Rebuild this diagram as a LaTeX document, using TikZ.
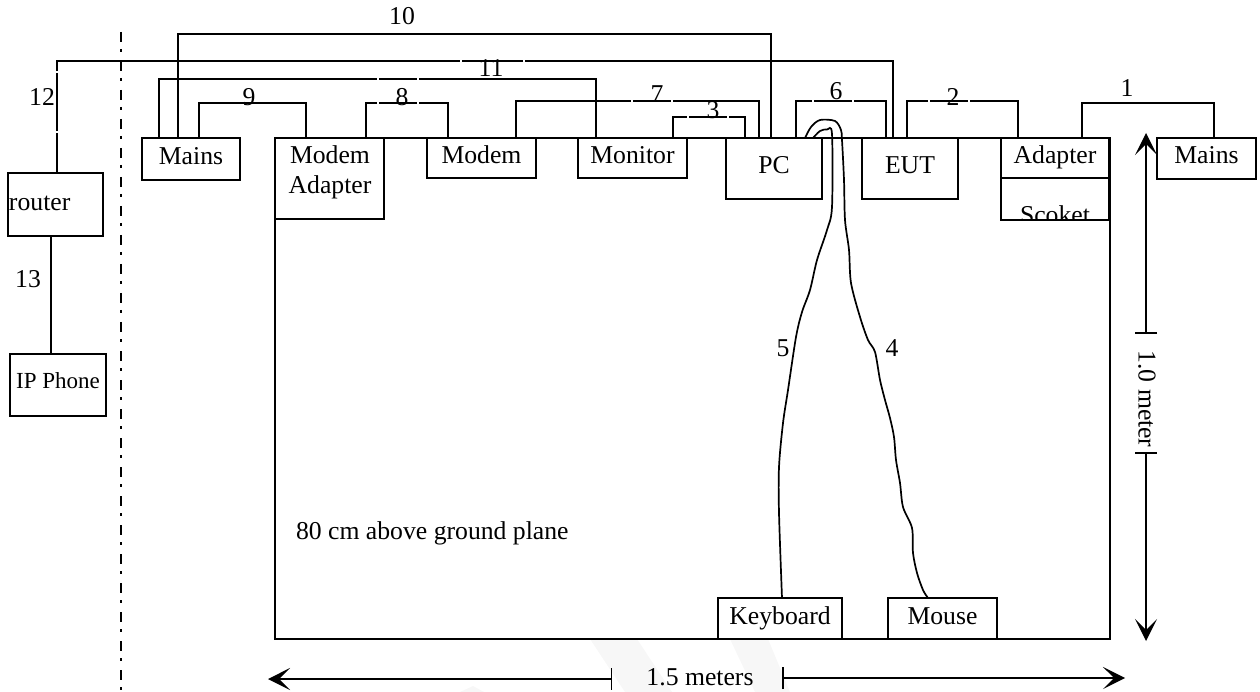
\documentclass[tikz,border=0pt]{standalone}
\usepackage{fontspec}
\setmainfont{Liberation Serif}
\usetikzlibrary{arrows.meta}
\tikzset{
  boxnode/.style={draw, rectangle, fill=white, line width=1.8pt, inner sep=0pt, outer sep=0pt, align=center, text height=16pt, text depth=5pt},
  textnode/.style={inner sep=0pt, outer sep=0pt, align=center},
  wire/.style={line width=1.8pt},
  brokenwire/.style={line width=1.8pt, dash pattern=on #1pt off 2pt on 38pt off 2pt on 1500pt off 1pt},
  cable/.style={line width=1.7pt},
  dimline/.style={line width=1.5pt, {Bar[width=22pt,line width=1.5pt]}-{Stealth[length=22pt,width=22pt,inset=11pt]}},
  sepline/.style={line width=2.6pt, dash pattern=on 10pt off 7pt on 3pt off 9pt},
  markband/.style={fill=gray!6, draw=none}
}
\begin{document}
\begin{tikzpicture}[x=1pt,y=-1pt,font=\fontsize{25.7}{30}\selectfont]
\useasboundingbox (0,0) rectangle (1260,692);
% faint marks behind
\fill[markband] (590,639) -- (637,639) -- (672,692) -- (625,692) -- cycle;
\fill[markband] (730,639) -- (768,639) -- (790,692) -- (755,692) -- cycle;
\fill[markband] (460,692) -- (473,686) -- (484,692) -- cycle;
% table
\node[boxnode, minimum width=835pt, minimum height=501pt] (table) at (692.5,388.5) {};
% boxes
\node[boxnode, minimum width=98pt, minimum height=42pt] (mainsleft) at (191,159) {Mains};
\node[boxnode, minimum width=109pt, minimum height=81pt] (modemadapter) at (329.5,178.5) {};
\node[textnode] (modemadaptertext) at (330,172) {Modem\\Adapter};
\node[boxnode, minimum width=109pt, minimum height=40pt] (modem) at (481.5,158) {Modem};
\node[boxnode, minimum width=109pt, minimum height=40pt] (monitor) at (632.5,158) {Monitor};
\node[boxnode, minimum width=96pt, minimum height=61pt] (pc) at (774,168.5) {PC};
\node[boxnode, minimum width=96pt, minimum height=61pt] (eut) at (910,168.5) {EUT};
\node[boxnode, minimum width=108pt, minimum height=40pt] (adapter) at (1055,158) {Adapter};
\node[boxnode, minimum width=108pt, minimum height=42pt] (scoket) at (1055,199) {};
\node[boxnode, minimum width=99pt, minimum height=41pt] (mainsright) at (1206.5,158.5) {Mains};
\node[boxnode, minimum width=124pt, minimum height=41pt] (keyboard) at (780,618.5) {Keyboard};
\node[boxnode, minimum width=109pt, minimum height=41pt] (mouse) at (942.5,618.5) {Mouse};
\node[boxnode, minimum width=95pt, minimum height=63pt] (router) at (55.5,204.5) {};
\node[textnode, anchor=west] (routertext) at (9,203) {router};
\node[boxnode, minimum width=96pt, minimum height=62pt, text height=12pt, font=\fontsize{23}{27}\selectfont] (ipphone) at (58,385) {IP Phone};
\begin{scope}
\clip (scoket.north west) rectangle (scoket.south east);
\node[textnode, anchor=base] (scokettext) at (1055,224) {Scoket};
\end{scope}
% wires
\draw[wire] ([xshift=27pt]adapter.north) -- ++(0,-35) -| ([xshift=7.5pt]mainsright.north);
\draw[brokenwire=58] ([xshift=-3pt]eut.north) -- ++(0,-37) -| ([xshift=-37pt]adapter.north);
\draw[brokenwire=35] ([xshift=40.5pt]monitor.north) -- ++(0,-21) -| ([xshift=-29pt]pc.north);
\draw[brokenwire=53] ([xshift=22pt]pc.north) -- ++(0,-37) -| ([xshift=-24pt]eut.north);
\draw[brokenwire=152] ([xshift=34.5pt]modem.north) -- ++(0,-37) -| ([xshift=-15pt]pc.north);
\draw[brokenwire=46] ([xshift=36.5pt]modemadapter.north) -- ++(0,-35) -| ([xshift=-33.5pt]modem.north);
\draw[wire] ([xshift=8pt]mainsleft.north) -- ++(0,-35) -| ([xshift=-23.5pt]modemadapter.north);
\draw[wire] ([xshift=-13pt]mainsleft.north) -- ++(0,-104) -| ([xshift=-3pt]pc.north);
\draw[brokenwire=277] ([xshift=-32pt]mainsleft.north) -- ++(0,-59) -| ([xshift=-36.5pt]monitor.north);
\draw[wire, dash pattern=on 40pt off 2pt on 58pt off 2pt on 413pt off 2pt on 61pt off 2pt on 1500pt off 1pt] ([xshift=1.5pt]router.north) -- ++(0,-112) -| ([xshift=-17pt]eut.north);
\draw[wire] ([xshift=-4.5pt]router.south) -- ([xshift=-7pt]ipphone.north);
% cables
\draw[cable] plot[smooth, tension=0.5] coordinates {([xshift=-14.5pt]mouse.north) (923,590) (917,573) (913,553) (912,528) (903,507) (900,483) (896,460) (894,437) (890,418) (885,400) (880,380) (875,352) (868,340) (860,317) (851,283) (849,250) (845,220) (844,180) (842,140) (841,130) (835,121) (820,120) (811,127) ([xshift=31pt]pc.north)};
\draw[cable] plot[smooth, tension=0.5] coordinates {([xshift=2pt]keyboard.north) (779,513) (779,467) (783,423) (788,390) (796,337) (802,312) (810,290) (817,260) (827,230) (832,207) (832,134) (827,129.5) (820,131) ([xshift=39pt]pc.north)};
% dimension lines
\coordinate (upperend) at (1146,133);
\coordinate (upperbar) at (1146,334);
\coordinate (lowerbar) at (1146,452);
\coordinate (lowerend) at (1146,641);
\coordinate (leftend) at (268,679);
\coordinate (leftbar) at (612,679);
\coordinate (rightbar) at (782,678);
\coordinate (rightend) at (1125,678);
\draw[dimline] (upperbar) -- (upperend);
\draw[dimline] (lowerbar) -- (lowerend);
\draw[dimline] (leftbar) -- (leftend);
\draw[dimline] (rightbar) -- (rightend);
% separator
\coordinate (septop) at (121,32);
\coordinate (sepbottom) at (121,692);
\draw[sepline] (septop) -- (sepbottom);
% texts
\node[textnode, rotate=-90] (onemeter) at (1147,399) {1.0 meter};
\node[textnode] (onefive) at (700,677) {1.5 meters};
\node[textnode, anchor=west] (tablenote) at (296,533) {80 cm above ground plane};
\foreach \n/\px/\py in {1/1127/88,2/953/97,3/713/110,4/892/348,5/783/348,6/836/91,7/657/94,8/402/97,9/249/97,10/402/16,11/491/68,12/42/97,13/28/279}
  \node[textnode] (num\n) at (\px,\py) {\n};
\end{tikzpicture}
\end{document}
